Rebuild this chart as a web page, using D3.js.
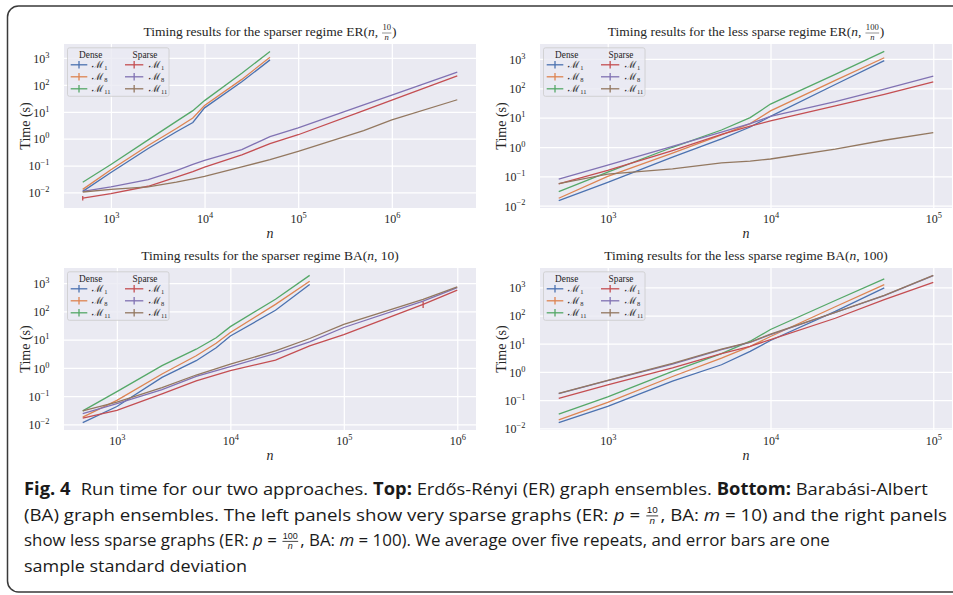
<!DOCTYPE html>
<html><head><meta charset="utf-8">
<script src="https://cdn.jsdelivr.net/npm/d3@7/dist/d3.min.js"></script>
<style>body{margin:0;background:#fff}svg{display:block}text{white-space:pre}</style>
</head><body>
<svg id="c" width="953" height="595"></svg>
<script>
// ---------------- DATA ----------------
const seriesLabels = ["1", "8", "11"];           // subscripts of the model names M_1, M_8, M_11
const groupLabels = ["Dense", "Sparse"];
const denseColors = ["#4C72B0", "#DD8452", "#55A868"];
const sparseColors = ["#C44E52", "#8172B3", "#937860"];

const nDense = [500, 1000, 2500, 5000, 7500, 10000, 25000, 50000];

// ER(n, 10/n)
const er10_nSparse = [500, 1000, 2500, 5000, 7500, 10000, 25000, 50000, 100000, 500000, 1000000, 5000000];
const er10_dense_M1  = [0.011, 0.055, 0.43, 1.8, 4.0, 14, 130, 850];
const er10_dense_M8  = [0.013, 0.07, 0.56, 2.4, 5.9, 17, 160, 1070];
const er10_dense_M11 = [0.024, 0.11, 0.9, 4.4, 11, 26, 270, 1750];
const er10_sparse_M1  = [0.0062, 0.009, 0.017, 0.037, 0.059, 0.087, 0.25, 0.65, 1.4, 11, 27, 215];
const er10_sparse_M8  = [0.011, 0.016, 0.03, 0.065, 0.11, 0.155, 0.39, 1.2, 2.5, 18, 42, 300];
const er10_sparse_M11 = [0.0104, 0.013, 0.016, 0.024, 0.032, 0.04, 0.09, 0.165, 0.34, 2.0, 5.0, 28];

// ER(n, 100/n)
const er100_nSparse = [500, 1000, 2500, 5000, 7500, 10000, 25000, 50000, 100000];
const er100_dense_M1  = [0.015, 0.062, 0.45, 1.9, 4.8, 11, 135, 880];
const er100_dense_M8  = [0.018, 0.1, 0.62, 2.6, 6.3, 17, 185, 1100];
const er100_dense_M11 = [0.03, 0.14, 0.98, 3.8, 10, 29, 300, 1800];
const er100_sparse_M1  = [0.055, 0.16, 0.76, 2.7, 5.1, 7.8, 25, 62, 167];
const er100_sparse_M8  = [0.081, 0.24, 1.05, 3.2, 6.3, 11, 35, 94, 260];
const er100_sparse_M11 = [0.057, 0.12, 0.18, 0.29, 0.33, 0.39, 0.85, 1.7, 3.1];

// BA(n, 10)
const ba10_nSparse = [500, 1000, 2500, 5000, 10000, 25000, 50000, 100000, 500000, 1000000];
const ba10_dense_M1  = [0.0115, 0.043, 0.46, 1.8, 5.2, 13.5, 110, 900];
const ba10_dense_M8  = [0.018, 0.071, 0.61, 2.7, 7.5, 18, 178, 1170];
const ba10_dense_M11 = [0.03, 0.145, 1.2, 4.6, 11.7, 29, 270, 1900];
const ba10_sparse_M1  = [0.0166, 0.031, 0.12, 0.35, 0.8, 1.9, 6.0, 15, 178, 570];
const ba10_sparse_M8  = [0.024, 0.054, 0.17, 0.5, 1.1, 3.3, 8.3, 27, 233, 700];
const ba10_sparse_M11 = [0.03, 0.061, 0.2, 0.56, 1.35, 4.0, 11, 35, 270, 740];

// BA(n, 100)
const ba100_nSparse = [500, 1000, 2500, 5000, 7500, 10000, 25000, 50000, 100000];
const ba100_dense_M1  = [0.016, 0.06, 0.47, 1.8, 5.4, 13, 140, 950];
const ba100_dense_M8  = [0.02, 0.083, 0.69, 3.1, 8.1, 18, 205, 1250];
const ba100_dense_M11 = [0.032, 0.13, 1.05, 4.5, 12.3, 32, 340, 2000];
const ba100_sparse_M1  = [0.117, 0.35, 1.4, 4.5, 8.1, 14, 80, 366, 1500];
const ba100_sparse_M8  = [0.17, 0.49, 1.9, 6.2, 11.2, 21, 128, 510, 2600];
const ba100_sparse_M11 = [0.175, 0.5, 2.0, 6.4, 11.5, 22, 130, 520, 2650];

// visible error bars (one sample standard deviation)
const errorBars = [
  { panel: 0, group: "sparse", series: 0, n: 500, sd: 0.0012 },
  { panel: 2, group: "sparse", series: 0, n: 500000, sd: 45 }
];

const titles = [
  [{ s: "Timing results for the sparser regime ER(" }, { s: "n", i: true }, { s: ", " }, { frac: ["10", "n"] }, { s: ")" }],
  [{ s: "Timing results for the less sparse regime ER(" }, { s: "n", i: true }, { s: ", " }, { frac: ["100", "n"] }, { s: ")" }],
  [{ s: "Timing results for the sparser regime BA(" }, { s: "n", i: true }, { s: ", 10)" }],
  [{ s: "Timing results for the less sparse regime BA(" }, { s: "n", i: true }, { s: ", 100)" }]
];
const yLabel = "Time (s)";
const xLabel = "n";

const captionLines = [
  [{ s: "Fig. 4", b: true }, { gap: 5 }, { s: " Run time for our two approaches. " }, { s: "Top:", b: true }, { s: " Erdős-Rényi (ER) graph ensembles. " }, { s: "Bottom:", b: true }, { s: " Barabási-Albert" }],
  [{ s: "(BA) graph ensembles. The left panels show very sparse graphs (ER: " }, { s: "p", i: true }, { s: " =" }, { gap: 5 }, { frac: ["10", "n"] }, { gap: 1.5 }, { s: ", BA: " }, { s: "m", i: true }, { s: " = 10) and the right panels" }],
  [{ s: "show less sparse graphs (ER: " }, { s: "p", i: true }, { s: " =" }, { gap: 5 }, { frac: ["100", "n"] }, { gap: 1.5 }, { s: ", BA: " }, { s: "m", i: true }, { s: " = 100). We average over five repeats, and error bars are one" }],
  [{ s: "sample standard deviation" }]
];

// ---------------- LAYOUT ----------------
const SERIF = "'Liberation Serif','Times New Roman',serif";
const SANS = "'Open Sans','Noto Sans',sans-serif";
const TXT = "#262626";
const panels = [
  { left: 64, right: 476, top: 44, bottom: 208, nSparse: er10_nSparse,
    dense: [er10_dense_M1, er10_dense_M8, er10_dense_M11], sparse: [er10_sparse_M1, er10_sparse_M8, er10_sparse_M11] },
  { left: 540, right: 952, top: 44, bottom: 208, nSparse: er100_nSparse,
    dense: [er100_dense_M1, er100_dense_M8, er100_dense_M11], sparse: [er100_sparse_M1, er100_sparse_M8, er100_sparse_M11] },
  { left: 64, right: 476, top: 268, bottom: 430, nSparse: ba10_nSparse,
    dense: [ba10_dense_M1, ba10_dense_M8, ba10_dense_M11], sparse: [ba10_sparse_M1, ba10_sparse_M8, ba10_sparse_M11] },
  { left: 540, right: 952, top: 268, bottom: 430, nSparse: ba100_nSparse,
    dense: [ba100_dense_M1, ba100_dense_M8, ba100_dense_M11], sparse: [ba100_sparse_M1, ba100_sparse_M8, ba100_sparse_M11] }
];

const svg = d3.select("#c");
svg.append("rect").attr("x", 7.5).attr("y", 6).attr("width", 1000).attr("height", 586).attr("rx", 11)
  .attr("fill", "none").attr("stroke", "#3a3a3a").attr("stroke-width", 1.5);

function measure(g, s, family, fs, italic) {
  const t = g.append("text").attr("font-family", family).attr("font-size", fs).text(s);
  if (italic) t.attr("font-style", "italic");
  const w = t.node().getComputedTextLength();
  t.remove();
  return w;
}

function layoutSegs(g, segs, o) {
  let x = 0;
  const ff = o.fracFamily || o.family;
  segs.forEach(sg => {
    if (sg.gap) { x += sg.gap; return; }
    if (sg.frac) {
      const wn = measure(g, sg.frac[0], ff, o.fracFs, false);
      const wd = measure(g, sg.frac[1], ff, o.fracFs, true);
      const w = Math.max(wn, wd) + o.fracPad * 2;
      const ft = g.append("text").attr("font-family", ff).attr("font-size", o.fracFs)
        .attr("fill", o.fill).attr("text-anchor", "middle");
      ft.append("tspan").attr("x", x + w / 2).attr("y", o.numY).text(sg.frac[0]);
      ft.append("tspan").attr("x", x + w / 2).attr("y", o.denY).attr("font-style", "italic").text(sg.frac[1]);
      g.append("line").attr("x1", x + o.fracPad * 0.6).attr("x2", x + w - o.fracPad * 0.6)
        .attr("y1", o.barY).attr("y2", o.barY).attr("stroke", o.fill).attr("stroke-width", o.barW);
      x += w; return;
    }
    const t = g.append("text").attr("x", x).attr("y", 0).attr("font-family", o.family)
      .attr("font-size", o.fs).attr("fill", o.fill).text(sg.s);
    if (sg.i) t.attr("font-style", "italic");
    if (sg.b) t.attr("font-weight", "bold");
    x += t.node().getComputedTextLength();
  });
  return x;
}

function supLabel(sel, exp, fs) {
  sel.append("tspan").text("10");
  sel.append("tspan").attr("dy", -fs * 0.42).attr("font-size", fs * 0.7).text(exp < 0 ? "\u2212" + (-exp) : String(exp));
}

function drawPanel(p, pi) {
  const g = svg.append("g");
  const xs = nDense.concat(p.nSparse).map(Math.log10);
  let ys = [];
  p.dense.concat(p.sparse).forEach(s => s.forEach(v => ys.push(v)));
  errorBars.filter(e => e.panel === pi).forEach(e => {
    const arr = p[e.group][e.series], ns = e.group === "dense" ? nDense : p.nSparse;
    const v = arr[ns.indexOf(e.n)]; ys.push(v - e.sd, v + e.sd);
  });
  ys = ys.map(Math.log10);
  const [x0, x1] = d3.extent(xs), mx = (x1 - x0) * 0.05;
  const [y0, y1] = d3.extent(ys), my = (y1 - y0) * 0.05;
  const x = d3.scaleLog().domain([10 ** (x0 - mx), 10 ** (x1 + mx)]).range([p.left, p.right]);
  const y = d3.scaleLog().domain([10 ** (y0 - my), 10 ** (y1 + my)]).range([p.bottom, p.top]);

  g.append("rect").attr("x", p.left).attr("y", p.top).attr("width", p.right - p.left)
    .attr("height", p.bottom - p.top).attr("fill", "#EAEAF2");

  const xt = d3.range(Math.ceil(x0 - mx), Math.floor(x1 + mx) + 1).map(e => 10 ** e);
  const yt = d3.range(Math.ceil(y0 - my), Math.floor(y1 + my) + 1).map(e => 10 ** e);

  const gx = g.append("g").attr("transform", `translate(0,${p.bottom})`)
    .call(d3.axisBottom(x).tickValues(xt).tickSize(-(p.bottom - p.top)).tickFormat(""));
  gx.select(".domain").remove();
  gx.selectAll(".tick line").attr("stroke", "#fff").attr("stroke-width", 1.25);
  gx.selectAll(".tick text").remove();
  gx.selectAll(".tick").each(function (d) {
    const t = d3.select(this).append("text").attr("y", 15).attr("text-anchor", "middle")
      .attr("font-family", SERIF).attr("font-size", 12).attr("fill", TXT);
    supLabel(t, Math.round(Math.log10(d)), 12);
  });

  const gy = g.append("g").attr("transform", `translate(${p.left},0)`)
    .call(d3.axisLeft(y).tickValues(yt).tickSize(-(p.right - p.left)).tickFormat(""));
  gy.select(".domain").remove();
  gy.selectAll(".tick line").attr("stroke", "#fff").attr("stroke-width", 1.25);
  gy.selectAll(".tick text").remove();
  gy.selectAll(".tick").each(function (d) {
    const t = d3.select(this).append("text").attr("x", -14.5).attr("y", 4.3).attr("text-anchor", "end")
      .attr("font-family", SERIF).attr("font-size", 12).attr("fill", TXT);
    supLabel(t, Math.round(Math.log10(d)), 12);
  });

  const line = d3.line().x(d => x(d[0])).y(d => y(d[1]));
  const clip = "clip" + pi;
  g.append("clipPath").attr("id", clip).append("rect").attr("x", p.left).attr("y", p.top)
    .attr("width", p.right - p.left).attr("height", p.bottom - p.top);
  const lg = g.append("g").attr("clip-path", `url(#${clip})`);
  p.dense.forEach((s, i) => lg.append("path").attr("d", line(nDense.map((n, k) => [n, s[k]])))
    .attr("fill", "none").attr("stroke", denseColors[i]).attr("stroke-width", 1.3));
  p.sparse.forEach((s, i) => lg.append("path").attr("d", line(p.nSparse.map((n, k) => [n, s[k]])))
    .attr("fill", "none").attr("stroke", sparseColors[i]).attr("stroke-width", 1.3));
  errorBars.filter(e => e.panel === pi).forEach(e => {
    const arr = p[e.group][e.series], ns = e.group === "dense" ? nDense : p.nSparse;
    const v = arr[ns.indexOf(e.n)];
    lg.append("line").attr("x1", x(e.n)).attr("x2", x(e.n)).attr("y1", y(v - e.sd)).attr("y2", y(v + e.sd))
      .attr("stroke", (e.group === "dense" ? denseColors : sparseColors)[e.series]).attr("stroke-width", 1.3);
  });

  // title
  const tg = g.append("g");
  const w = layoutSegs(tg, titles[pi], { family: SERIF, fs: 13.5, fill: TXT, fracFs: 8.6, numY: -5.6, denY: 4, barY: -3, barW: 0.5, fracPad: 1 });
  tg.attr("transform", `translate(${(p.left + p.right) / 2 - w / 2},${p.top - 8})`);

  // axis labels
  g.append("text").attr("transform", `translate(${p.left - 34},${(p.top + p.bottom) / 2}) rotate(-90)`)
    .attr("text-anchor", "middle").attr("font-family", SERIF).attr("font-size", 14).attr("fill", TXT).text(yLabel);
  g.append("text").attr("x", (p.left + p.right) / 2).attr("y", p.bottom + 29.5).attr("text-anchor", "middle")
    .attr("font-family", SERIF).attr("font-size", 14).attr("font-style", "italic").attr("fill", TXT).text(xLabel);

  // legend
  const bx = p.left + 3.5, by = p.top + 3.8;
  const leg = g.append("g").attr("transform", `translate(${bx},${by})`);
  leg.append("rect").attr("width", 101.5).attr("height", 48.5).attr("rx", 2)
    .attr("fill", "#EAEAF2").attr("fill-opacity", 0.8).attr("stroke", "#cccccc").attr("stroke-width", 0.8);
  const cols = [{ hx: 23.2, h0: 3.2, h1: 19.8, lx: 24.8, colors: denseColors },
                { hx: 77.5, h0: 57.5, h1: 75.8, lx: 81.5, colors: sparseColors }];
  cols.forEach((c, ci) => {
    leg.append("text").attr("x", c.hx).attr("y", 10).attr("text-anchor", "middle").attr("font-family", SERIF)
      .attr("font-size", 9.3).attr("fill", TXT).text(groupLabels[ci]);
    seriesLabels.forEach((sl, si) => {
      const cy = 17 + si * 12;
      leg.append("line").attr("x1", c.h0).attr("x2", c.h1).attr("y1", cy).attr("y2", cy)
        .attr("stroke", c.colors[si]).attr("stroke-width", 1.3);
      leg.append("line").attr("x1", (c.h0 + c.h1) / 2).attr("x2", (c.h0 + c.h1) / 2).attr("y1", cy - 3.8).attr("y2", cy + 3.8)
        .attr("stroke", c.colors[si]).attr("stroke-width", 1.3);
      const t = leg.append("text").attr("x", c.lx).attr("y", cy + 3.2).attr("font-family", SERIF)
        .attr("font-size", 10).attr("fill", TXT);
      t.append("tspan").text("\u2133");
      t.append("tspan").attr("dy", 2).attr("font-size", 6.5).text(sl);
    });
  });
}
panels.forEach(drawPanel);

// caption
const capG = svg.append("g");
const baselines = [495, 520.5, 546, 571.5];
const lineWidths = [904, 923, 806, 223];
captionLines.forEach((segs, i) => {
  const lg = capG.append("g");
  const w = layoutSegs(lg, segs, { family: SANS, fs: 17, fill: "#1a1a1a", fracFamily: "'Liberation Sans',Arial,sans-serif",
    fracFs: 9, numY: -7.2, denY: 3.2, barY: -4.6, barW: 0.8, fracPad: 1 });
  lg.attr("transform", `translate(24,${baselines[i]}) scale(${lineWidths[i] / w},1)`);
});
</script>
</body></html>
